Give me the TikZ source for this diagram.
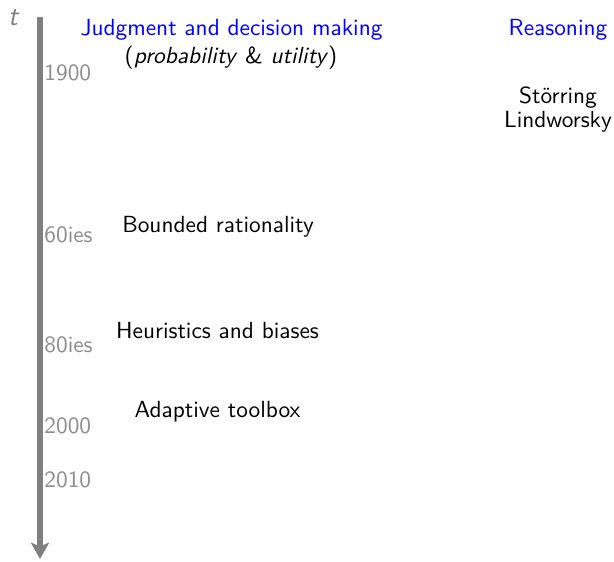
\documentclass[tikz,border=0pt]{standalone}
\usepackage{fontspec}
\usetikzlibrary{arrows.meta}
\begin{document}
\begin{tikzpicture}[x=0.4285pt,y=-0.4285pt,
  every node/.style={font=\sffamily, inner sep=0pt},
  yearlab/.style={text=gray!90, anchor=base west},
  head/.style={text=blue, anchor=base},
  item/.style={text=black, anchor=base},
  axisline/.style={draw=gray, line width=2.7pt, -{Stealth[length=7pt,width=7.8pt,inset=1.6pt]}}]
\useasboundingbox (0,0) rectangle (614,561);
\coordinate (top) at (40,17);
\coordinate (bot) at (40,559);
\draw[axisline] (top) -- (bot);
\node[text=gray, anchor=base, font=\sffamily\itshape\large] (t) at (13,25) {t};
\node[yearlab] (y1900) at (44,80) {1900};
\node[yearlab] (y60) at (44,242) {60ies};
\node[yearlab] (y80) at (44,352) {80ies};
\node[yearlab] (y2000) at (44,433) {2000};
\node[yearlab] (y2010) at (44,487) {2010};
\node[head] (jdm) at (231.5,35) {Judgment and decision making};
\node[item] (pu) at (231,63) {(\textit{probability} \& \textit{utility})};
\node[head] (reas) at (558,35) {Reasoning};
\node[item] (st) at (558,103) {Störring};
\node[item] (li) at (558,127) {Lindworsky};
\node[item] (br) at (218,232) {Bounded rationality};
\node[item] (hb) at (217.5,338) {Heuristics and biases};
\node[item] (at) at (217.5,417) {Adaptive toolbox};
\end{tikzpicture}
\end{document}
